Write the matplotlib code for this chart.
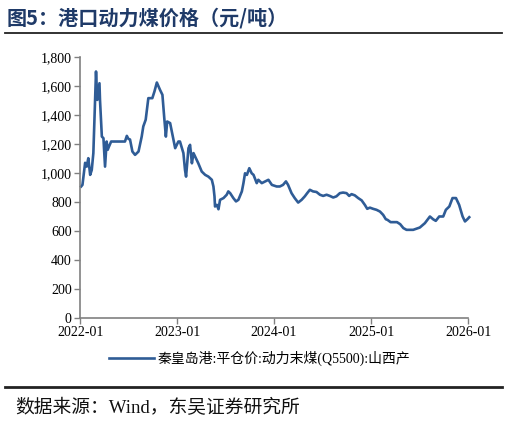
import pandas as pd
import matplotlib.pyplot as plt
import matplotlib.dates as mdates
from matplotlib.ticker import FuncFormatter

# 秦皇岛港:平仓价:动力末煤(Q5500):山西产, 元/吨
dates = [
    "2022-01-05", "2022-01-10", "2022-01-20", "2022-01-26", "2022-02-01", "2022-02-08",
    "2022-02-14", "2022-02-20", "2022-02-26", "2022-03-02", "2022-03-07", "2022-03-11",
    "2022-03-15", "2022-03-17", "2022-03-24", "2022-03-30", "2022-04-05", "2022-04-11",
    "2022-04-15", "2022-04-20", "2022-04-28", "2022-06-19", "2022-06-26", "2022-07-02",
    "2022-07-08", "2022-07-17", "2022-07-27", "2022-08-09", "2022-08-21", "2022-08-27",
    "2022-09-05", "2022-09-15", "2022-09-30", "2022-10-08", "2022-10-17", "2022-10-29",
    "2022-11-07", "2022-11-14", "2022-11-20", "2022-11-25", "2022-12-06", "2022-12-15",
    "2022-12-25", "2023-01-06", "2023-01-12", "2023-01-25", "2023-01-31", "2023-02-04",
    "2023-02-13", "2023-02-19", "2023-02-26", "2023-03-04", "2023-03-10", "2023-03-22",
    "2023-04-04", "2023-04-17", "2023-04-29", "2023-05-12", "2023-05-18", "2023-05-22",
    "2023-05-24", "2023-05-31", "2023-06-06", "2023-06-12", "2023-06-25", "2023-07-07",
    "2023-07-13", "2023-07-20", "2023-08-01", "2023-08-11", "2023-08-20", "2023-09-02",
    "2023-09-08", "2023-09-14", "2023-09-21", "2023-09-30", "2023-10-09", "2023-10-16",
    "2023-10-28", "2023-11-03", "2023-11-16", "2023-11-29", "2023-12-11", "2023-12-24",
    "2024-01-11", "2024-01-23", "2024-02-04", "2024-02-15", "2024-02-23", "2024-03-07",
    "2024-03-19", "2024-04-01", "2024-04-14", "2024-04-26", "2024-05-05", "2024-05-15",
    "2024-05-27", "2024-06-09", "2024-06-22", "2024-07-04", "2024-07-17", "2024-07-29",
    "2024-08-11", "2024-08-23", "2024-09-05", "2024-09-17", "2024-09-30", "2024-10-10",
    "2024-10-19", "2024-10-31", "2024-11-13", "2024-11-26", "2024-12-08", "2024-12-17",
    "2024-12-27", "2025-01-08", "2025-01-21", "2025-02-03", "2025-02-15", "2025-02-25",
    "2025-03-03", "2025-03-15", "2025-04-08", "2025-04-20", "2025-05-02", "2025-05-14",
    "2025-06-08", "2025-07-03", "2025-07-22", "2025-08-10", "2025-08-22", "2025-09-01",
    "2025-09-14", "2025-09-29", "2025-10-09", "2025-10-22", "2025-11-03", "2025-11-16",
    "2025-11-28", "2025-12-11", "2025-12-20", "2025-12-29", "2026-01-05",
]
prices = [
    906, 917, 1069, 1043, 1101, 986,
    1020, 1136, 1482, 1699, 1503, 1560,
    1618, 1503, 1250, 1239, 1043, 1216,
    1159, 1182, 1216, 1216, 1255, 1234,
    1230, 1147, 1124, 1147, 1250, 1320,
    1366, 1515, 1515, 1561, 1623, 1572,
    1538, 1377, 1250, 1354, 1343, 1262,
    1170, 1216, 1216, 1136, 1020, 974,
    1170, 1193, 1066, 1136, 1113, 1066,
    1009, 986, 974, 952, 906, 838,
    768, 779, 749, 814, 826, 849,
    872, 860, 826, 803, 814, 872,
    929, 997, 986, 1032, 997, 986,
    929, 952, 929, 941, 952, 917,
    906, 906, 917, 941, 917, 860,
    826, 795, 814, 838, 860, 883,
    872, 868, 849, 841, 849, 841,
    830, 838, 860, 864, 860, 841,
    853, 845, 826, 810, 779, 752,
    760, 752, 745, 733, 710, 680,
    676, 660, 660, 646, 619, 607,
    607, 623, 653, 699, 680, 669,
    699, 699, 745, 768, 826, 826,
    779, 699, 665, 680, 694,
]
series_name = "秦皇岛港:平仓价:动力末煤(Q5500):山西产"
title = "图5：港口动力煤价格（元/吨）"
source = "数据来源：Wind，东吴证券研究所"

serif = ["Liberation Serif", "Noto Sans CJK SC"]
plt.rcParams["font.family"] = serif

x = pd.to_datetime(dates)

fig = plt.figure(figsize=(5.1, 4.21), dpi=100)
ax = fig.add_axes([0.157, 0.245, 0.761, 0.62])
line, = ax.plot(x, prices, color="#2F5C96", lw=1.9)

ax.set_ylim(0, 1800)
ax.set_yticks(range(0, 1801, 200))
ax.yaxis.set_major_formatter(FuncFormatter(lambda v, _: f"{v:,.0f}"))
ax.set_xlim(pd.Timestamp("2022-01-01"), pd.Timestamp("2026-01-01"))
ax.set_xticks(pd.to_datetime(["2022-01-01", "2023-01-01", "2024-01-01", "2025-01-01", "2026-01-01"]))
ax.xaxis.set_major_formatter(mdates.DateFormatter("%Y-%m"))
ax.tick_params(labelsize=10, length=4, width=1, color="#808080", pad=2)
for s in ["top", "right"]:
    ax.spines[s].set_visible(False)
for s in ["left", "bottom"]:
    ax.spines[s].set_color("#808080")
    ax.spines[s].set_linewidth(1.2)
line.set_clip_on(False)

fig.legend([line], [series_name], loc="center", bbox_to_anchor=(0.51, 0.148),
           frameon=False, fontsize=10, handlelength=3.2, handletextpad=0.3)

fig.text(0.012, 0.957, title, fontsize=14.5, fontweight="bold", color="#1F3A68",
         family=["Noto Sans CJK SC"], va="center")
fig.add_artist(plt.Line2D([0.01, 0.985], [0.922, 0.922], color="#222222", lw=1.3))
fig.add_artist(plt.Line2D([0.01, 0.985], [0.081, 0.081], color="#222222", lw=2.0))
fig.text(0.03, 0.031, source, fontsize=13.5, color="#111111", va="center")

fig.savefig("out.png", dpi=100)
